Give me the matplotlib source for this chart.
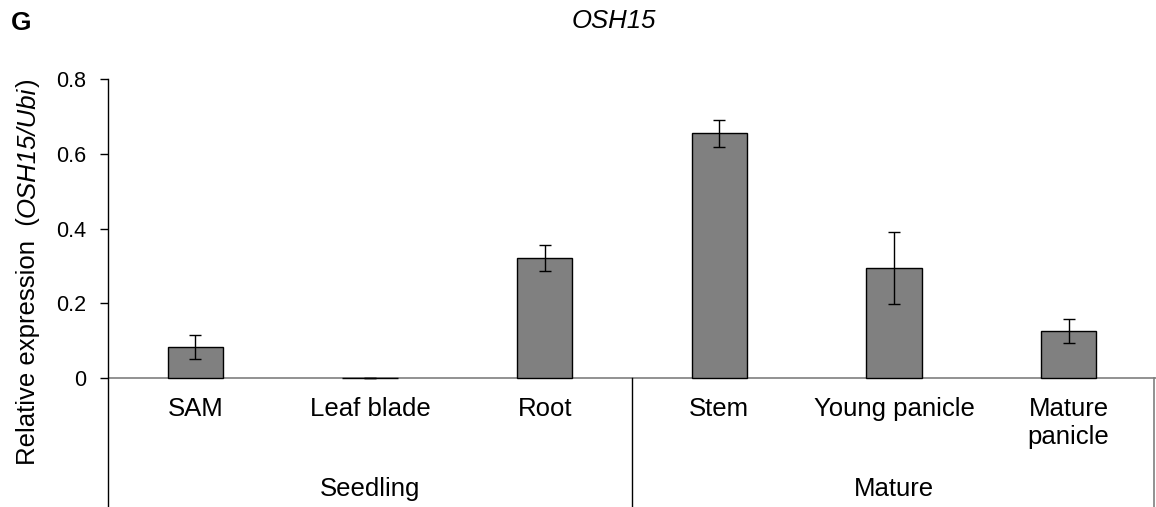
import matplotlib
matplotlib.use('Agg')
import matplotlib.pyplot as plt
import numpy as np

plt.rcParams['font.family'] = ['Liberation Sans', 'DejaVu Sans']

# data
tissues = ['SAM', 'Leaf blade', 'Root', 'Stem', 'Young panicle', 'Mature\npanicle']
expression = [0.083, 0.001, 0.321, 0.655, 0.294, 0.126]
errors = [0.033, 0.0, 0.034, 0.036, 0.096, 0.032]
groups = ['Seedling', 'Mature']
group_size = [3, 3]
yticks = [0, 0.2, 0.4, 0.6, 0.8]
ytick_labels = ['0', '0.2', '0.4', '0.6', '0.8']

fig = plt.figure(figsize=(11.56, 5.07), dpi=100)
ax = fig.add_axes([108 / 1156, 0.0, 1 - 108 / 1156, 1 - 79 / 507])

x = np.arange(len(tissues))
ax.bar(x, expression, width=0.315, color='#808080', edgecolor='black', linewidth=1.0,
       yerr=errors, error_kw=dict(ecolor='black', elinewidth=1.0, capsize=4, capthick=1.0))

ax.set_xlim(-0.5, len(tissues) - 0.5)
ax.set_ylim(-0.345, 0.8)

# axes lines
for s in ['top', 'right', 'bottom']:
    ax.spines[s].set_visible(False)
ax.spines['left'].set_color('black')
ax.spines['left'].set_linewidth(1.0)
ax.axhline(0, color='#7f7f7f', linewidth=1.2, zorder=0)

ax.set_yticks(yticks)
ax.set_yticklabels(ytick_labels, fontsize=15.5)
ax.tick_params(axis='y', direction='out', length=6, width=1, pad=10)
ax.set_xticks([])

# category labels
for xi, lab in zip(x, tissues):
    ax.text(xi, -0.052, lab, ha='center', va='top', fontsize=18.5, linespacing=1.2)

# group labels and dividers
start = 0
for g, n in zip(groups, group_size):
    mid = start + (n - 1) / 2
    ax.text(mid, -0.297, g, ha='center', va='center', fontsize=18.5)
    start += n
ax.plot([2.5, 2.5], [0, -0.345], color='black', linewidth=1.0, clip_on=False)
ax.plot([5.49, 5.49], [0, -0.345], color='#7f7f7f', linewidth=1.2, clip_on=False)

# y label in three pieces (italic gene names)
t1 = fig.text(28 / 1156, 1 - 465 / 507, 'Relative expression  (', rotation=90,
              ha='center', va='bottom', fontsize=18.5)
t2 = ax.annotate('OSH15/Ubi', xy=(0.5, 1), xycoords=t1, rotation=90, style='italic',
                 ha='center', va='bottom', fontsize=18.5, annotation_clip=False)
t3 = ax.annotate(')', xy=(0.5, 1), xycoords=t2, rotation=90,
                 ha='center', va='bottom', fontsize=18.5, annotation_clip=False)

fig.text(614 / 1156, 1 - 21 / 507, 'OSH15', style='italic', ha='center', va='center', fontsize=18.5)
fig.text(21 / 1156, 1 - 23 / 507, 'G', weight='bold', ha='center', va='center', fontsize=19)

fig.savefig('out.png', dpi=100)
plt.close(fig)
